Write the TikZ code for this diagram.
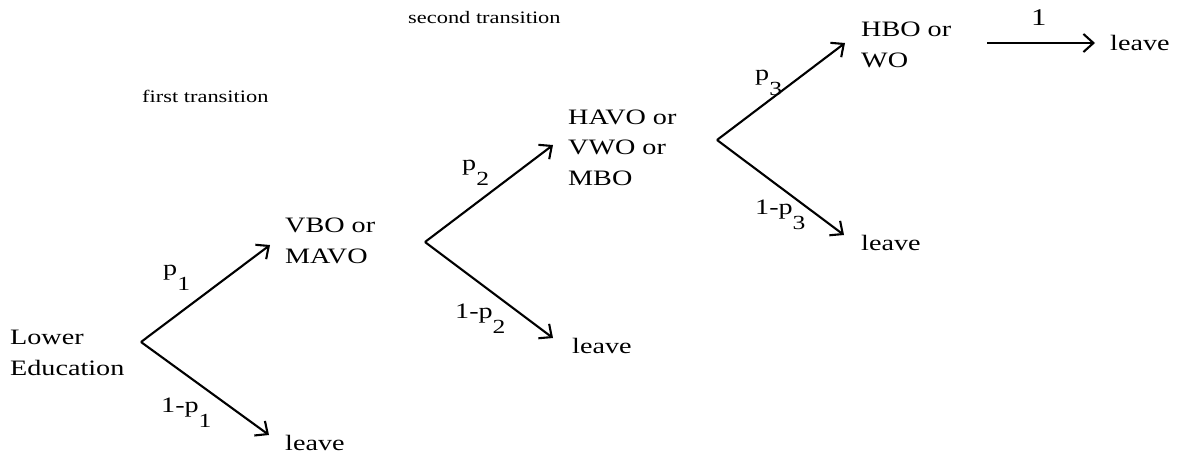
\documentclass[tikz,border=0pt]{standalone}
\usepackage{fontspec}
\setmainfont{Liberation Serif}[FakeStretch=1.28]
\usetikzlibrary{arrows.meta}
\newcommand\sbx[1]{\raisebox{-15pt}{\fontsize{20}{20}\selectfont #1}}
\tikzset{
  lbl/.style={anchor=base west, inner sep=0pt, font=\fontsize{22}{30}\selectfont},
  state/.style={anchor=base west, inner sep=0pt, align=left, font=\fontsize{22}{30.5}\selectfont},
  small/.style={anchor=base west, inner sep=0pt, font=\fontsize{17.5}{17.5}\selectfont},
  arr/.style={line width=2.1pt, -{Straight Barb[length=10pt,width=18pt,line width=2.1pt]}}
}
\begin{document}
\begin{tikzpicture}[x=1pt,y=-1pt]
\useasboundingbox (0,0) rectangle (1188,456);
% texts (base = last line)
\node[small] (t1) at (142,102) {first transition};
\node[small] (t2) at (408,23) {second transition};
\node[state] (le) at (10,375) {Lower\\Education};
\node[state] (s1) at (285,263) {VBO or\\MAVO};
\node[state] (l1) at (285,450) {leave};
\node[state] (s2) at (568,185) {HAVO or\\VWO or\\MBO};
\node[state] (l2) at (572,353) {leave};
\node[state] (s3) at (861,67) {HBO or\\WO};
\node[state] (l3) at (861,250) {leave};
\node[state] (l4) at (1110,50) {leave};
% coordinates
\coordinate (f1) at (141,342);
\coordinate (e1u) at (270,245);
\coordinate (e1d) at (269,435);
\coordinate (f2) at (425,242);
\coordinate (e2u) at (553,145);
\coordinate (e2d) at (553,338);
\coordinate (f3) at (717,140);
\coordinate (e3u) at (845,43);
\coordinate (e3d) at (844,235);
\coordinate (h0) at (987,43);
\coordinate (h1) at (1095,43);
% arrows
\draw[arr] (f1) -- (e1u);
\draw[arr] (f1) -- (e1d);
\draw[arr] (f2) -- (e2u);
\draw[arr] (f2) -- (e2d);
\draw[arr] (f3) -- (e3u);
\draw[arr] (f3) -- (e3d);
\draw[arr] (h0) -- (h1);
% labels
\node[lbl] (p1) at (163,275) {p\sbx{1}};
\node[lbl] (q1) at (161,412) {1-p\sbx{1}};
\node[lbl] (p2) at (462,170) {p\sbx{2}};
\node[lbl] (q2) at (455,318) {1-p\sbx{2}};
\node[lbl] (p3) at (755,80) {p\sbx{3}};
\node[lbl] (q3) at (755,214) {1-p\sbx{3}};
\node[lbl,font=\fontsize{24}{24}\selectfont] (one) at (1031,25) {1};
\end{tikzpicture}
\end{document}
